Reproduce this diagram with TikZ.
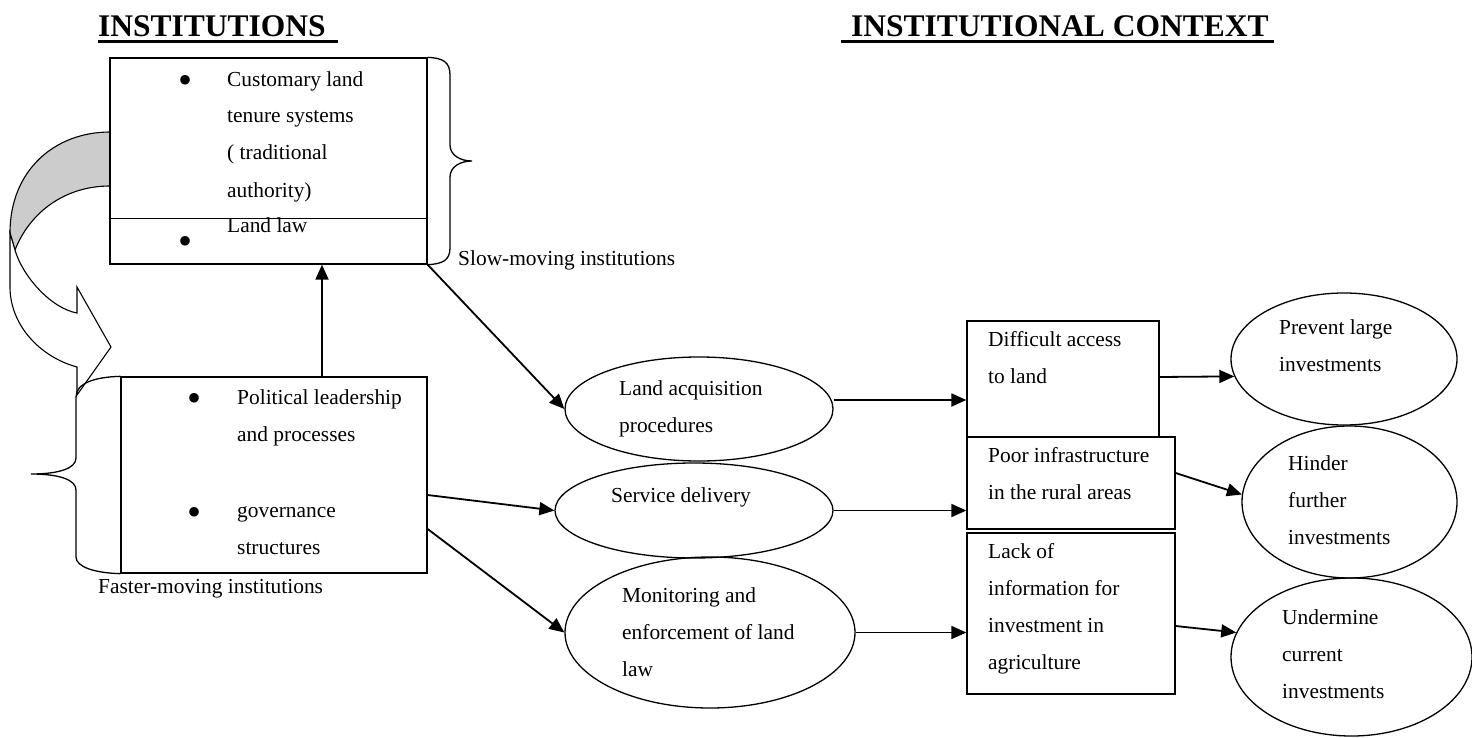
\documentclass[tikz,border=0pt]{standalone}
\usepackage{fontspec}
\setmainfont{Liberation Serif}
\usetikzlibrary{shapes.geometric,arrows.meta}

\begin{document}
\begin{tikzpicture}[x=1pt,y=-1pt,arr/.style={-{Triangle[length=15pt,width=13pt]},line width=1.8pt}]
\tikzstyle{box}=[draw,rectangle,line width=1.3pt,inner sep=0]
\tikzstyle{oval}=[draw,ellipse,line width=1.3pt,inner sep=0]
\tikzstyle{txt}=[anchor=base west,align=left,inner sep=0,font=\fontsize{21.4}{37}\selectfont]
\tikzstyle{dot}=[anchor=base,inner sep=0,font=\fontsize{40}{40}\selectfont]
\tikzstyle{head}=[anchor=base west,inner sep=0,font=\bfseries\fontsize{31.5}{36}\selectfont]
\useasboundingbox (0,0) rectangle (1472,738);

% headings
\node[head] (hleft) at (98,37) {INSTITUTIONS};
\node[head] (hright) at (851,37) {INSTITUTIONAL CONTEXT};
\draw[line width=3pt] (98,41.5) -- (338,41.5);
\draw[line width=3pt] (841,41.5) -- (1274,41.5);

% curled arrow on the left
\draw[line width=1.1pt,fill=black!20] (110,132) .. controls (55,132) and (10,170) .. (10,233)
  -- (15,250) .. controls (30,212) and (65,186) .. (110,186);
\draw[line width=1.1pt,fill=white] (10,233) -- (10,287) .. controls (10,325) and (40,357) .. (77,367)
  -- (77,395) -- (111,347) -- (77,287) -- (77,313)
  .. controls (50,308) and (22,275) .. (15,250) -- cycle;

% institutions (multi-line texts sit on the baseline of their last line)
\node[box,minimum width=317pt,minimum height=206pt] (tbox) at (268.5,161) {};
\draw[line width=1.3pt] ([yshift=46pt]tbox.south west) -- ([yshift=46pt]tbox.south east);
\node[box,minimum width=306pt,minimum height=196pt] (bbox) at (274,475) {};

\node[dot] (b1) at (185,94) {\textbullet};
\node[txt] (t1) at (227,197) {Customary land\\tenure systems\\( traditional\\authority)};
\node[dot] (b2) at (185,254) {\textbullet};
\node[txt] (t2) at (227,233) {Land law};
\node[dot] (b3) at (194,411) {\textbullet};
\node[txt] (t3) at (237,441) {Political leadership\\and processes};
\node[dot] (b4) at (194,525) {\textbullet};
\node[txt] (t4) at (237,554) {governance\\structures};

% braces
\draw[line width=1.3pt] (tbox.north east) .. controls (443,58) and (450,62) .. (450,75) -- (450,145)
  .. controls (450,155) and (460,161) .. (472,161) .. controls (460,161) and (450,167) .. (450,177)
  -- (450,248) .. controls (450,260) and (443,264) .. (tbox.south east);
\draw[line width=1.3pt] (bbox.north west) .. controls (95,377) and (76,383) .. (76,397) -- (76,458)
  .. controls (76,468) and (60,474) .. (31,474) .. controls (60,474) and (76,480) .. (76,490)
  -- (76,557) .. controls (76,567) and (95,573) .. (bbox.south west);
\node[txt] (slow) at (458,265) {Slow-moving institutions};
\node[txt] (fast) at (98,593) {Faster-moving institutions};

% middle ellipses
\node[oval,minimum width=268pt,minimum height=104pt] (acq) at (699,409) {};
\node[oval,minimum width=278pt,minimum height=95pt] (serv) at (694,510.5) {};
\node[oval,minimum width=290pt,minimum height=151pt] (mon) at (710,632.5) {};
\node[txt] (acqt) at (619,432) {Land acquisition\\procedures};
\node[txt] (servt) at (611,502) {Service delivery};
\node[txt] (mont) at (622,676) {Monitoring and\\enforcement of land\\law};

% context boxes
\node[box,minimum width=192pt,minimum height=116pt] (ctx1) at (1063,379) {};
\node[box,minimum width=208pt,minimum height=92pt] (ctx2) at (1071,483) {};
\node[box,minimum width=208pt,minimum height=161pt] (ctx3) at (1071,613.5) {};
\node[txt] (ctx1t) at (988,383) {Difficult access\\to land};
\node[txt] (ctx2t) at (988,499) {Poor infrastructure\\in the rural areas};
\node[txt] (ctx3t) at (988,669) {Lack of\\information for\\investment in\\agriculture};

% effects
\node[oval,minimum width=226pt,minimum height=132pt] (prev) at (1344,359) {};
\node[oval,minimum width=215pt,minimum height=152pt] (hind) at (1349.5,502) {};
\node[oval,minimum width=241pt,minimum height=158pt] (under) at (1351.5,657) {};
\node[txt] (prevt) at (1279,371) {Prevent large\\investments};
\node[txt] (hindt) at (1288,544) {Hinder\\further\\investments};
\node[txt] (undert) at (1282,698) {Undermine\\current\\investments};

% arrows
\draw[arr] ([xshift=48pt]bbox.north) -- ([xshift=53.5pt]tbox.south);
\draw[arr] (tbox.south east) -- (acq.west);
\draw[arr] ([yshift=-20pt]bbox.east) -- (serv.west);
\draw[arr] ([yshift=-54pt]bbox.east) -- (mon.west);
\draw[arr] ([yshift=9pt]acq.east) -- ([yshift=9pt]acq.east -| ctx1.west);
\draw[arr] (serv.east) -- (serv.east -| ctx2.west);
\draw[arr] (mon.east) -- (mon.east -| ctx3.west);
\draw[arr] ([yshift=2pt]ctx1.east) -- (prev.189);
\draw[arr] ([yshift=10pt]ctx2.east) -- (hind.176);
\draw[arr] ([yshift=-12.5pt]ctx3.east) -- (under.168);
\end{tikzpicture}
\end{document}
